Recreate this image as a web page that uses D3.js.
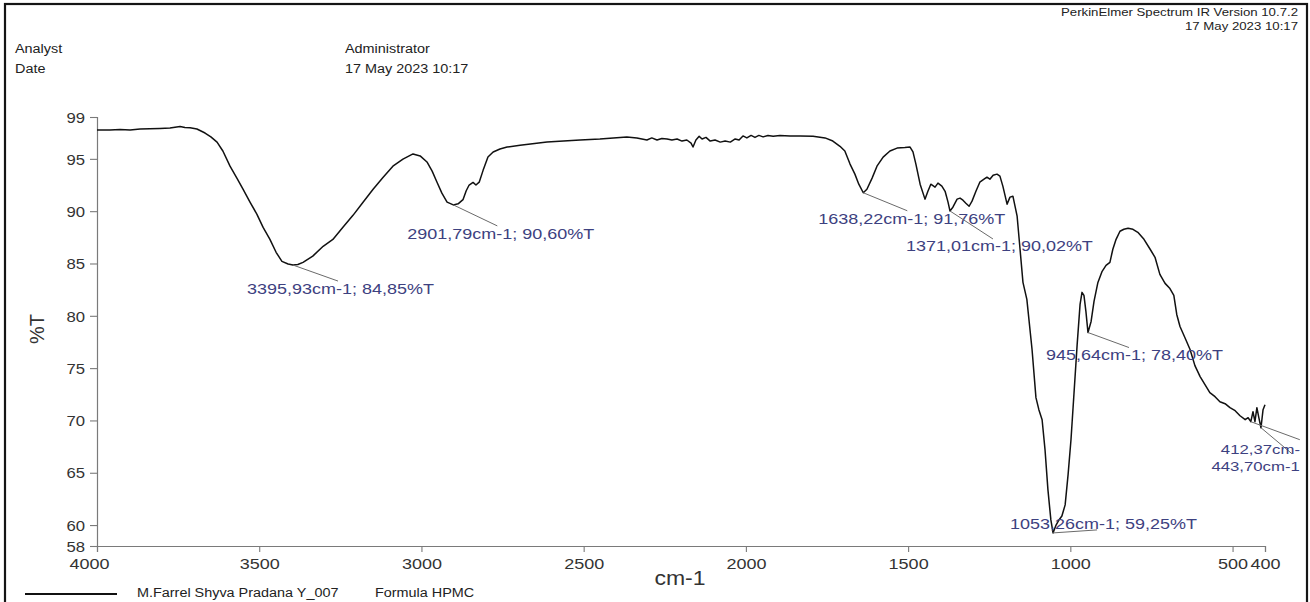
<!DOCTYPE html>
<html>
<head>
<meta charset="utf-8">
<script src="https://cdn.jsdelivr.net/npm/d3@7"></script>
<style>
  body { margin: 0; background: #fff; }
  svg { display: block; font-family: "Liberation Sans", Arial, sans-serif; }
</style>
</head>
<body>
<svg id="chart" width="1310" height="602"></svg>
<script>
// FT-IR spectrum, HPMC formula: wavenumber (cm-1) and transmittance (%T)
const wavenumber = [
  4000, 3960, 3929, 3898, 3867, 3837, 3806, 3775, 3744, 3729, 3713, 3692, 3667, 3649, 3630, 3612,
  3590, 3568, 3550, 3528, 3507, 3488, 3467, 3448, 3430, 3411, 3395.93, 3381, 3365, 3335, 3303, 3273,
  3242, 3211, 3180, 3149, 3118, 3088, 3057, 3026, 3004, 2983, 2967, 2952, 2937, 2921, 2901.79, 2887,
  2872, 2862, 2853, 2841, 2832, 2822, 2810, 2795, 2779, 2758, 2736, 2696, 2613, 2511, 2450, 2367,
  2336, 2305, 2290, 2274, 2259, 2243, 2228, 2212, 2197, 2182, 2169, 2163, 2154, 2144, 2135, 2123,
  2110, 2095, 2079, 2064, 2048, 2033, 2021, 2009, 1997, 1984, 1972, 1960, 1947, 1932, 1916, 1895,
  1864, 1833, 1793, 1756, 1732, 1710, 1695, 1679, 1664, 1652, 1638.22, 1627, 1611, 1596, 1577, 1556,
  1534, 1510, 1494, 1485, 1476, 1463, 1448, 1439, 1430, 1417, 1408, 1396, 1386, 1377, 1371.01, 1362,
  1349, 1340, 1331, 1322, 1312, 1303, 1291, 1279, 1266, 1257, 1248, 1238, 1226, 1217, 1208, 1195,
  1186, 1177, 1164, 1155, 1146, 1134, 1118, 1106, 1097, 1087, 1078, 1069, 1060, 1053.26, 1044, 1035,
  1026, 1016, 1007, 998, 989, 979, 970, 964, 958, 952, 945.64, 936, 927, 915, 902, 890,
  878, 869, 859, 847, 835, 822, 807, 792, 773, 754, 739, 724, 708, 693, 681, 672,
  662, 647, 631, 616, 600, 585, 570, 554, 539, 523, 508, 492, 477, 461, 452, 443.70,
  437, 431, 425, 419, 412.37, 406, 400
];
const transmittance = [
  97.76, 97.76, 97.80, 97.75, 97.85, 97.87, 97.90, 97.95, 98.10, 98.00, 97.97, 97.85, 97.47, 97.10, 96.60, 95.75,
  94.30, 93.10, 92.10, 90.85, 89.70, 88.45, 87.30, 86.07, 85.20, 84.95, 84.85, 84.90, 85.11, 85.70, 86.64, 87.30,
  88.46, 89.60, 90.86, 92.10, 93.25, 94.30, 94.98, 95.47, 95.28, 94.70, 93.83, 92.77, 91.72, 90.86, 90.60, 90.70,
  91.10, 91.95, 92.50, 92.75, 92.50, 92.77, 93.90, 95.17, 95.66, 95.94, 96.13, 96.30, 96.60, 96.80, 96.90, 97.10,
  97.00, 96.80, 97.00, 96.80, 96.95, 96.90, 96.80, 96.90, 96.70, 96.80, 96.50, 96.13, 96.80, 97.15, 96.90, 97.05,
  96.70, 96.80, 96.60, 96.70, 96.60, 96.90, 96.80, 97.19, 97.00, 97.24, 97.05, 97.24, 97.10, 97.24, 97.15, 97.24,
  97.19, 97.19, 97.15, 97.00, 96.70, 96.20, 95.75, 94.50, 93.54, 92.58, 91.76, 92.10, 93.16, 94.30, 95.17, 95.75,
  96.03, 96.08, 96.13, 95.66, 94.50, 92.58, 91.15, 91.90, 92.58, 92.30, 92.68, 92.40, 91.90, 90.86, 90.02, 90.38,
  91.15, 91.25, 91.05, 90.76, 90.47, 90.96, 91.90, 92.77, 93.06, 93.25, 93.06, 93.44, 93.54, 93.35, 92.39, 90.67,
  91.34, 91.43, 89.52, 86.36, 83.20, 81.57, 76.78, 72.18, 71.03, 70.07, 67.20, 63.36, 60.49, 59.25, 60.00, 60.49,
  60.87, 61.93, 64.80, 68.15, 72.46, 77.25, 81.09, 82.24, 81.95, 80.42, 78.40, 79.46, 81.37, 83.19, 84.25, 84.82,
  85.11, 86.36, 87.31, 88.08, 88.27, 88.37, 88.27, 87.98, 87.31, 86.36, 85.59, 83.96, 83.10, 82.60, 81.95, 80.13,
  78.98, 77.93, 76.78, 75.24, 74.19, 73.42, 72.66, 72.27, 71.79, 71.60, 71.22, 70.93, 70.45, 70.07, 70.26, 69.88,
  70.84, 69.88, 71.22, 70.26, 69.30, 71.03, 71.50
];

const xTicks = [4000, 3500, 3000, 2500, 2000, 1500, 1000, 500, 400];
const yTicks = [99, 95, 90, 85, 80, 75, 70, 65, 60, 58];

// labelled peaks
const peakWavenumber = [3395.93, 2901.79, 1638.22, 1371.01, 1053.26, 945.64, 443.70, 412.37];
const peakPercentT   = [84.85, 90.60, 91.76, 90.02, 59.25, 78.40, 69.88, 69.30];
const peakLabels = [
  "3395,93cm-1; 84,85%T", "2901,79cm-1; 90,60%T", "1638,22cm-1; 91,76%T", "1371,01cm-1; 90,02%T",
  "1053,26cm-1; 59,25%T", "945,64cm-1; 78,40%T", "443,70cm-1", "412,37cm-"
];

const headerLeft = [["Analyst", "Administrator"], ["Date", "17 May 2023 10:17"]];
const headerRight = ["PerkinElmer Spectrum IR Version 10.7.2", "17 May 2023 10:17"];
const legendLabels = ["M.Farrel Shyva Pradana Y_007", "Formula HPMC"];

// ---------------------------------------------------------------------
const svg = d3.select("#chart");
const STRETCH = 1.2;            // wide lettering of the printout
function widen(sel, k = STRETCH) {
  sel.each(function () {
    const n = this.getComputedTextLength();
    this.setAttribute("textLength", n * k);
    this.setAttribute("lengthAdjust", "spacingAndGlyphs");
  });
}

const x = d3.scaleLinear().domain([4000, 400]).range([97, 1265]);
const y = d3.scaleLinear().domain([58, 99]).range([546, 117]);

// page frame
svg.append("rect").attr("x", 5).attr("y", 4).attr("width", 1302).attr("height", 640)
  .attr("fill", "none").attr("stroke", "#151515").attr("stroke-width", 2.2);

// header
headerRight.forEach((t, i) => {
  svg.append("text").attr("x", 1298).attr("y", 16 + i * 14).attr("text-anchor", "end")
    .attr("font-size", 11).attr("fill", "#222").text(t).call(widen);
});
headerLeft.forEach((row, i) => {
  svg.append("text").attr("x", 15).attr("y", 53 + i * 20).attr("font-size", 12)
    .attr("fill", "#222").text(row[0]).call(widen);
  svg.append("text").attr("x", 345).attr("y", 53 + i * 20).attr("font-size", 12)
    .attr("fill", "#222").text(row[1]).call(widen);
});

// axes
const xAxis = svg.append("g").attr("transform", `translate(0,${y(58)})`)
  .call(d3.axisBottom(x).tickValues(xTicks).tickFormat(d3.format("d")).tickSize(6).tickPadding(3));
const yAxis = svg.append("g").attr("transform", `translate(${x(4000)},0)`)
  .call(d3.axisLeft(y).tickValues(yTicks).tickFormat(d3.format("d")).tickSize(7).tickPadding(5));

[xAxis, yAxis].forEach(g => {
  g.select(".domain").attr("stroke", "#7a7a7a").attr("stroke-width", 1.2);
  g.selectAll(".tick line").attr("stroke", "#7a7a7a").attr("stroke-width", 1.1);
  g.selectAll(".tick text").attr("fill", "#333").attr("font-family", "Liberation Sans, Arial, sans-serif");
});
xAxis.selectAll(".tick text").attr("font-size", 15).attr("dy", "0.95em").call(widen);
xAxis.selectAll(".tick text").filter(d => d === 4000).attr("dx", -8);
yAxis.selectAll(".tick text").attr("font-size", 14.5).attr("dy", "0.36em").call(widen, 1.15);

svg.append("text").attr("transform", "translate(44,329) rotate(-90)").attr("text-anchor", "middle")
  .attr("font-size", 20).attr("fill", "#333").text("%T");
svg.append("text").attr("x", 680).attr("y", 585).attr("text-anchor", "middle")
  .attr("font-size", 20).attr("fill", "#333").text("cm-1").call(widen, 1.15);

// spectrum trace
const spectrum = wavenumber.map((w, i) => [w, transmittance[i]]);
svg.append("path").datum(spectrum)
  .attr("fill", "none").attr("stroke", "#111").attr("stroke-width", 1.5)
  .attr("stroke-linejoin", "round")
  .attr("d", d3.line().x(d => x(d[0])).y(d => y(d[1])));

// peak labels: leader end and text anchor relative to the peak
const labelLayout = [
  { lx: 45, ly: 16, tx: -46, ty: 29, anchor: "start", size: 14.5 },
  { lx: 44, ly: 21, tx: -46, ty: 34, anchor: "start", size: 14.5 },
  { lx: 44, ly: 18, tx: -45, ty: 31, anchor: "start", size: 14.5 },
  { lx: 43, ly: 28, tx: -44, ty: 40, anchor: "start", size: 14.5 },
  { lx: 44, ly: -3, tx: -43, ty: -4, anchor: "start", size: 14.5 },
  { lx: 41, ly: 15, tx: -42, ty: 27, anchor: "start", size: 14.5 },
  { lx: 49, ly: 18, tx: 49, ty: 49, anchor: "end", size: 13.5 },
  { lx: 31, ly: 26, tx: 39, ty: 26, anchor: "end", size: 13.5 }
];
const labelColor = "#3d4180";
peakWavenumber.forEach((w, i) => {
  const px = x(w), py = y(peakPercentT[i]), L = labelLayout[i];
  svg.append("line").attr("x1", px).attr("y1", py).attr("x2", px + L.lx).attr("y2", py + L.ly)
    .attr("stroke", "#6a6a6a").attr("stroke-width", 1);
  svg.append("text").attr("x", px + L.tx).attr("y", py + L.ty).attr("text-anchor", L.anchor)
    .attr("font-size", L.size).attr("fill", labelColor).text(peakLabels[i]).call(widen, 1.24);
});

// legend
svg.append("line").attr("x1", 25).attr("x2", 117).attr("y1", 594).attr("y2", 594)
  .attr("stroke", "#111").attr("stroke-width", 2);
svg.append("text").attr("x", 137).attr("y", 597).attr("font-size", 12).attr("fill", "#222")
  .text(legendLabels[0]).call(widen);
svg.append("text").attr("x", 375).attr("y", 597).attr("font-size", 12).attr("fill", "#222")
  .text(legendLabels[1]).call(widen);
</script>
</body>
</html>
